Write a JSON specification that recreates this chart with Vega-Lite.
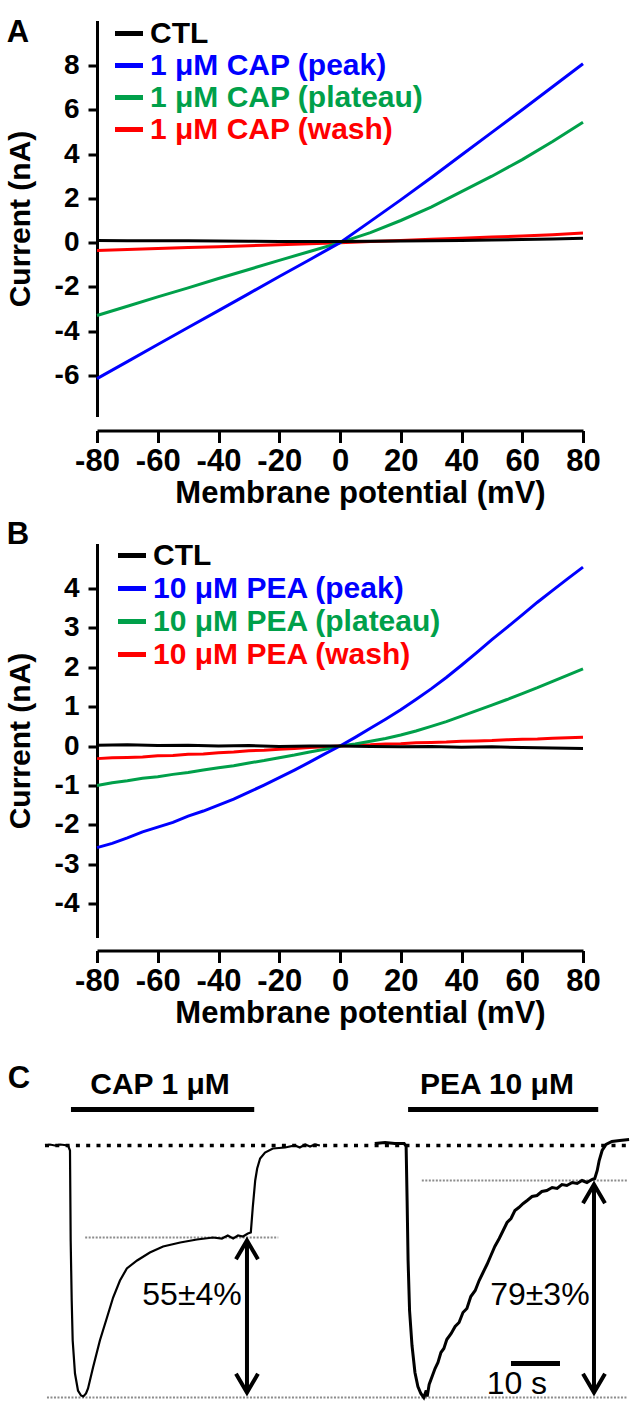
{
  "$schema": "https://vega.github.io/schema/vega-lite/v6.json",
  "padding": {"left": 5, "top": 16.5, "right": 0, "bottom": 0},
  "config": {
    "view": {"stroke": null},
    "font": "Liberation Sans",
    "axis": {"grid": false, "domainColor": "#000000", "tickColor": "#000000", "labelColor": "#000000", "titleColor": "#000000", "domainWidth": 3, "tickWidth": 3, "labelFont": "Liberation Sans", "titleFont": "Liberation Sans", "labelFontWeight": "bold", "titleFontWeight": "bold"},
    "text": {"font": "Liberation Sans", "color": "#000000"}
  },
  "datasets": {
    "ivA": [
      {"series": "1 μM CAP (wash)", "mV": -80, "nA": -0.35}, {"series": "1 μM CAP (wash)", "mV": -70, "nA": -0.31}, {"series": "1 μM CAP (wash)", "mV": -60, "nA": -0.27}, {"series": "1 μM CAP (wash)", "mV": -50, "nA": -0.22}, {"series": "1 μM CAP (wash)", "mV": -40, "nA": -0.18}, {"series": "1 μM CAP (wash)", "mV": -30, "nA": -0.14}, {"series": "1 μM CAP (wash)", "mV": -20, "nA": -0.09}, {"series": "1 μM CAP (wash)", "mV": -10, "nA": -0.05}, {"series": "1 μM CAP (wash)", "mV": 0, "nA": 0.0}, {"series": "1 μM CAP (wash)", "mV": 10, "nA": 0.05}, {"series": "1 μM CAP (wash)", "mV": 20, "nA": 0.1}, {"series": "1 μM CAP (wash)", "mV": 30, "nA": 0.15}, {"series": "1 μM CAP (wash)", "mV": 40, "nA": 0.2}, {"series": "1 μM CAP (wash)", "mV": 50, "nA": 0.25}, {"series": "1 μM CAP (wash)", "mV": 60, "nA": 0.3}, {"series": "1 μM CAP (wash)", "mV": 70, "nA": 0.36}, {"series": "1 μM CAP (wash)", "mV": 80, "nA": 0.43},
      {"series": "1 μM CAP (plateau)", "mV": -80, "nA": -3.29}, {"series": "1 μM CAP (plateau)", "mV": -70, "nA": -2.87}, {"series": "1 μM CAP (plateau)", "mV": -60, "nA": -2.45}, {"series": "1 μM CAP (plateau)", "mV": -50, "nA": -2.04}, {"series": "1 μM CAP (plateau)", "mV": -40, "nA": -1.62}, {"series": "1 μM CAP (plateau)", "mV": -30, "nA": -1.21}, {"series": "1 μM CAP (plateau)", "mV": -20, "nA": -0.8}, {"series": "1 μM CAP (plateau)", "mV": -10, "nA": -0.4}, {"series": "1 μM CAP (plateau)", "mV": 0, "nA": 0.0}, {"series": "1 μM CAP (plateau)", "mV": 10, "nA": 0.45}, {"series": "1 μM CAP (plateau)", "mV": 20, "nA": 1.0}, {"series": "1 μM CAP (plateau)", "mV": 30, "nA": 1.6}, {"series": "1 μM CAP (plateau)", "mV": 40, "nA": 2.3}, {"series": "1 μM CAP (plateau)", "mV": 50, "nA": 3.0}, {"series": "1 μM CAP (plateau)", "mV": 60, "nA": 3.75}, {"series": "1 μM CAP (plateau)", "mV": 70, "nA": 4.57}, {"series": "1 μM CAP (plateau)", "mV": 80, "nA": 5.44},
      {"series": "1 μM CAP (peak)", "mV": -80, "nA": -6.14}, {"series": "1 μM CAP (peak)", "mV": -70, "nA": -5.37}, {"series": "1 μM CAP (peak)", "mV": -60, "nA": -4.6}, {"series": "1 μM CAP (peak)", "mV": -50, "nA": -3.83}, {"series": "1 μM CAP (peak)", "mV": -40, "nA": -3.07}, {"series": "1 μM CAP (peak)", "mV": -30, "nA": -2.3}, {"series": "1 μM CAP (peak)", "mV": -20, "nA": -1.53}, {"series": "1 μM CAP (peak)", "mV": -10, "nA": -0.77}, {"series": "1 μM CAP (peak)", "mV": 0, "nA": 0.0}, {"series": "1 μM CAP (peak)", "mV": 10, "nA": 0.96}, {"series": "1 μM CAP (peak)", "mV": 20, "nA": 1.93}, {"series": "1 μM CAP (peak)", "mV": 30, "nA": 2.93}, {"series": "1 μM CAP (peak)", "mV": 40, "nA": 3.96}, {"series": "1 μM CAP (peak)", "mV": 50, "nA": 4.98}, {"series": "1 μM CAP (peak)", "mV": 60, "nA": 6.0}, {"series": "1 μM CAP (peak)", "mV": 70, "nA": 7.04}, {"series": "1 μM CAP (peak)", "mV": 80, "nA": 8.08},
      {"series": "CTL", "mV": -80, "nA": 0.1}, {"series": "CTL", "mV": -70, "nA": 0.09}, {"series": "CTL", "mV": -60, "nA": 0.08}, {"series": "CTL", "mV": -50, "nA": 0.08}, {"series": "CTL", "mV": -40, "nA": 0.07}, {"series": "CTL", "mV": -30, "nA": 0.06}, {"series": "CTL", "mV": -20, "nA": 0.05}, {"series": "CTL", "mV": -10, "nA": 0.05}, {"series": "CTL", "mV": 0, "nA": 0.05}, {"series": "CTL", "mV": 10, "nA": 0.06}, {"series": "CTL", "mV": 20, "nA": 0.07}, {"series": "CTL", "mV": 30, "nA": 0.09}, {"series": "CTL", "mV": 40, "nA": 0.1}, {"series": "CTL", "mV": 50, "nA": 0.12}, {"series": "CTL", "mV": 60, "nA": 0.14}, {"series": "CTL", "mV": 70, "nA": 0.17}, {"series": "CTL", "mV": 80, "nA": 0.2}
    ],
    "ivB": [
      {"series": "10 μM PEA (wash)", "mV": -80, "nA": -0.32}, {"series": "10 μM PEA (wash)", "mV": -75, "nA": -0.3}, {"series": "10 μM PEA (wash)", "mV": -70, "nA": -0.29}, {"series": "10 μM PEA (wash)", "mV": -65, "nA": -0.28}, {"series": "10 μM PEA (wash)", "mV": -60, "nA": -0.25}, {"series": "10 μM PEA (wash)", "mV": -55, "nA": -0.24}, {"series": "10 μM PEA (wash)", "mV": -50, "nA": -0.21}, {"series": "10 μM PEA (wash)", "mV": -45, "nA": -0.2}, {"series": "10 μM PEA (wash)", "mV": -40, "nA": -0.17}, {"series": "10 μM PEA (wash)", "mV": -35, "nA": -0.15}, {"series": "10 μM PEA (wash)", "mV": -30, "nA": -0.12}, {"series": "10 μM PEA (wash)", "mV": -25, "nA": -0.11}, {"series": "10 μM PEA (wash)", "mV": -20, "nA": -0.08}, {"series": "10 μM PEA (wash)", "mV": -15, "nA": -0.06}, {"series": "10 μM PEA (wash)", "mV": -10, "nA": -0.04}, {"series": "10 μM PEA (wash)", "mV": -5, "nA": -0.02}, {"series": "10 μM PEA (wash)", "mV": 0, "nA": 0.0}, {"series": "10 μM PEA (wash)", "mV": 5, "nA": 0.02}, {"series": "10 μM PEA (wash)", "mV": 10, "nA": 0.03}, {"series": "10 μM PEA (wash)", "mV": 15, "nA": 0.05}, {"series": "10 μM PEA (wash)", "mV": 20, "nA": 0.06}, {"series": "10 μM PEA (wash)", "mV": 25, "nA": 0.08}, {"series": "10 μM PEA (wash)", "mV": 30, "nA": 0.09}, {"series": "10 μM PEA (wash)", "mV": 35, "nA": 0.1}, {"series": "10 μM PEA (wash)", "mV": 40, "nA": 0.12}, {"series": "10 μM PEA (wash)", "mV": 45, "nA": 0.13}, {"series": "10 μM PEA (wash)", "mV": 50, "nA": 0.14}, {"series": "10 μM PEA (wash)", "mV": 55, "nA": 0.16}, {"series": "10 μM PEA (wash)", "mV": 60, "nA": 0.17}, {"series": "10 μM PEA (wash)", "mV": 65, "nA": 0.18}, {"series": "10 μM PEA (wash)", "mV": 70, "nA": 0.2}, {"series": "10 μM PEA (wash)", "mV": 75, "nA": 0.21}, {"series": "10 μM PEA (wash)", "mV": 80, "nA": 0.22},
      {"series": "10 μM PEA (plateau)", "mV": -80, "nA": -1.0}, {"series": "10 μM PEA (plateau)", "mV": -75, "nA": -0.93}, {"series": "10 μM PEA (plateau)", "mV": -70, "nA": -0.88}, {"series": "10 μM PEA (plateau)", "mV": -65, "nA": -0.82}, {"series": "10 μM PEA (plateau)", "mV": -60, "nA": -0.78}, {"series": "10 μM PEA (plateau)", "mV": -55, "nA": -0.72}, {"series": "10 μM PEA (plateau)", "mV": -50, "nA": -0.67}, {"series": "10 μM PEA (plateau)", "mV": -45, "nA": -0.61}, {"series": "10 μM PEA (plateau)", "mV": -40, "nA": -0.55}, {"series": "10 μM PEA (plateau)", "mV": -35, "nA": -0.5}, {"series": "10 μM PEA (plateau)", "mV": -30, "nA": -0.43}, {"series": "10 μM PEA (plateau)", "mV": -25, "nA": -0.37}, {"series": "10 μM PEA (plateau)", "mV": -20, "nA": -0.3}, {"series": "10 μM PEA (plateau)", "mV": -15, "nA": -0.23}, {"series": "10 μM PEA (plateau)", "mV": -10, "nA": -0.15}, {"series": "10 μM PEA (plateau)", "mV": -5, "nA": -0.08}, {"series": "10 μM PEA (plateau)", "mV": 0, "nA": 0.0}, {"series": "10 μM PEA (plateau)", "mV": 5, "nA": 0.05}, {"series": "10 μM PEA (plateau)", "mV": 10, "nA": 0.12}, {"series": "10 μM PEA (plateau)", "mV": 15, "nA": 0.19}, {"series": "10 μM PEA (plateau)", "mV": 20, "nA": 0.28}, {"series": "10 μM PEA (plateau)", "mV": 25, "nA": 0.38}, {"series": "10 μM PEA (plateau)", "mV": 30, "nA": 0.5}, {"series": "10 μM PEA (plateau)", "mV": 35, "nA": 0.62}, {"series": "10 μM PEA (plateau)", "mV": 40, "nA": 0.76}, {"series": "10 μM PEA (plateau)", "mV": 45, "nA": 0.9}, {"series": "10 μM PEA (plateau)", "mV": 50, "nA": 1.04}, {"series": "10 μM PEA (plateau)", "mV": 55, "nA": 1.18}, {"series": "10 μM PEA (plateau)", "mV": 60, "nA": 1.33}, {"series": "10 μM PEA (plateau)", "mV": 65, "nA": 1.48}, {"series": "10 μM PEA (plateau)", "mV": 70, "nA": 1.64}, {"series": "10 μM PEA (plateau)", "mV": 75, "nA": 1.8}, {"series": "10 μM PEA (plateau)", "mV": 80, "nA": 1.96},
      {"series": "10 μM PEA (peak)", "mV": -80, "nA": -2.58}, {"series": "10 μM PEA (peak)", "mV": -75, "nA": -2.47}, {"series": "10 μM PEA (peak)", "mV": -70, "nA": -2.33}, {"series": "10 μM PEA (peak)", "mV": -65, "nA": -2.18}, {"series": "10 μM PEA (peak)", "mV": -60, "nA": -2.06}, {"series": "10 μM PEA (peak)", "mV": -55, "nA": -1.94}, {"series": "10 μM PEA (peak)", "mV": -50, "nA": -1.78}, {"series": "10 μM PEA (peak)", "mV": -45, "nA": -1.65}, {"series": "10 μM PEA (peak)", "mV": -40, "nA": -1.5}, {"series": "10 μM PEA (peak)", "mV": -35, "nA": -1.35}, {"series": "10 μM PEA (peak)", "mV": -30, "nA": -1.17}, {"series": "10 μM PEA (peak)", "mV": -25, "nA": -0.99}, {"series": "10 μM PEA (peak)", "mV": -20, "nA": -0.8}, {"series": "10 μM PEA (peak)", "mV": -15, "nA": -0.61}, {"series": "10 μM PEA (peak)", "mV": -10, "nA": -0.41}, {"series": "10 μM PEA (peak)", "mV": -5, "nA": -0.2}, {"series": "10 μM PEA (peak)", "mV": 0, "nA": 0.0}, {"series": "10 μM PEA (peak)", "mV": 5, "nA": 0.22}, {"series": "10 μM PEA (peak)", "mV": 10, "nA": 0.45}, {"series": "10 μM PEA (peak)", "mV": 15, "nA": 0.68}, {"series": "10 μM PEA (peak)", "mV": 20, "nA": 0.92}, {"series": "10 μM PEA (peak)", "mV": 25, "nA": 1.18}, {"series": "10 μM PEA (peak)", "mV": 30, "nA": 1.45}, {"series": "10 μM PEA (peak)", "mV": 35, "nA": 1.74}, {"series": "10 μM PEA (peak)", "mV": 40, "nA": 2.05}, {"series": "10 μM PEA (peak)", "mV": 45, "nA": 2.37}, {"series": "10 μM PEA (peak)", "mV": 50, "nA": 2.7}, {"series": "10 μM PEA (peak)", "mV": 55, "nA": 3.01}, {"series": "10 μM PEA (peak)", "mV": 60, "nA": 3.33}, {"series": "10 μM PEA (peak)", "mV": 65, "nA": 3.65}, {"series": "10 μM PEA (peak)", "mV": 70, "nA": 3.95}, {"series": "10 μM PEA (peak)", "mV": 75, "nA": 4.25}, {"series": "10 μM PEA (peak)", "mV": 80, "nA": 4.54},
      {"series": "CTL", "mV": -80, "nA": 0.02}, {"series": "CTL", "mV": -70, "nA": 0.03}, {"series": "CTL", "mV": -60, "nA": 0.01}, {"series": "CTL", "mV": -50, "nA": 0.02}, {"series": "CTL", "mV": -40, "nA": 0.0}, {"series": "CTL", "mV": -30, "nA": 0.01}, {"series": "CTL", "mV": -20, "nA": -0.01}, {"series": "CTL", "mV": -10, "nA": 0.0}, {"series": "CTL", "mV": 0, "nA": 0.0}, {"series": "CTL", "mV": 10, "nA": -0.01}, {"series": "CTL", "mV": 20, "nA": -0.02}, {"series": "CTL", "mV": 30, "nA": -0.01}, {"series": "CTL", "mV": 40, "nA": -0.03}, {"series": "CTL", "mV": 50, "nA": -0.02}, {"series": "CTL", "mV": 60, "nA": -0.04}, {"series": "CTL", "mV": 70, "nA": -0.05}, {"series": "CTL", "mV": 80, "nA": -0.06}
    ],
    "trace1": [
      {"t": 0, "I": 0}, {"t": 1.0, "I": 0.4}, {"t": 2.0, "I": 0}, {"t": 3.1, "I": 0.4}, {"t": 4.7, "I": 0}, {"t": 5.1, "I": -2}, {"t": 5.24, "I": -38}, {"t": 5.45, "I": -62}, {"t": 5.65, "I": -78}, {"t": 6.12, "I": -91.2}, {"t": 6.73, "I": -98}, {"t": 7.35, "I": -100}, {"t": 7.82, "I": -100.4}, {"t": 8.37, "I": -99.2}, {"t": 8.78, "I": -97.2}, {"t": 9.8, "I": -88.8}, {"t": 11.2, "I": -78}, {"t": 12.65, "I": -68.8}, {"t": 13.9, "I": -60.8}, {"t": 15.3, "I": -54}, {"t": 16.7, "I": -49.2}, {"t": 18.8, "I": -46}, {"t": 21.4, "I": -42.8}, {"t": 24.1, "I": -40.4}, {"t": 27.6, "I": -38.8}, {"t": 31.0, "I": -37.6}, {"t": 34.3, "I": -36.8}, {"t": 36.1, "I": -37.2}, {"t": 37.3, "I": -36}, {"t": 38.4, "I": -37.2}, {"t": 39.4, "I": -36}, {"t": 40.4, "I": -36.4}, {"t": 41.4, "I": -35.2}, {"t": 42.0, "I": -34.8}, {"t": 42.4, "I": -24.8}, {"t": 42.9, "I": -14}, {"t": 43.3, "I": -9.2}, {"t": 43.9, "I": -5.2}, {"t": 44.9, "I": -2.8}, {"t": 46.5, "I": -1.2}, {"t": 49.0, "I": -0.8}, {"t": 51.0, "I": 0}, {"t": 52.0, "I": -0.8}, {"t": 53.1, "I": 0.4}, {"t": 54.1, "I": -0.4}, {"t": 55.1, "I": 0.4}, {"t": 56.1, "I": 0}
    ],
    "trace2": [
      {"t": 67.3, "I": 0.8}, {"t": 69.4, "I": 1.2}, {"t": 71.4, "I": 0.8}, {"t": 73.3, "I": 0.8}, {"t": 73.7, "I": -0.4}, {"t": 73.9, "I": -22}, {"t": 74.1, "I": -46}, {"t": 74.4, "I": -66}, {"t": 74.9, "I": -80}, {"t": 75.5, "I": -90.8}, {"t": 76.1, "I": -96.4}, {"t": 76.7, "I": -99.2}, {"t": 77.3, "I": -100.8}, {"t": 77.8, "I": -98}, {"t": 78.0, "I": -100.4}, {"t": 78.4, "I": -95.6}, {"t": 79.0, "I": -92.4}, {"t": 79.6, "I": -89.2}, {"t": 80.2, "I": -86.8}, {"t": 80.8, "I": -82.8}, {"t": 81.4, "I": -81.2}, {"t": 82.0, "I": -77.6}, {"t": 82.9, "I": -75.2}, {"t": 83.7, "I": -72.4}, {"t": 84.5, "I": -70.8}, {"t": 85.3, "I": -66.8}, {"t": 86.1, "I": -65.2}, {"t": 86.9, "I": -60.4}, {"t": 87.8, "I": -58}, {"t": 88.6, "I": -54}, {"t": 89.4, "I": -50.8}, {"t": 90.2, "I": -47.6}, {"t": 91.0, "I": -44}, {"t": 91.8, "I": -40.4}, {"t": 92.7, "I": -37.2}, {"t": 93.5, "I": -34}, {"t": 94.3, "I": -30.8}, {"t": 95.1, "I": -29.2}, {"t": 95.9, "I": -26}, {"t": 96.7, "I": -24.8}, {"t": 97.6, "I": -23.2}, {"t": 98.4, "I": -22}, {"t": 99.4, "I": -20.4}, {"t": 100.4, "I": -20}, {"t": 101.4, "I": -18.4}, {"t": 102.4, "I": -18}, {"t": 103.5, "I": -16.8}, {"t": 104.5, "I": -17.2}, {"t": 105.5, "I": -15.6}, {"t": 106.5, "I": -16}, {"t": 107.6, "I": -14.8}, {"t": 108.6, "I": -15.2}, {"t": 109.6, "I": -14}, {"t": 110.6, "I": -14.8}, {"t": 111.6, "I": -13.6}, {"t": 112.2, "I": -13.2}, {"t": 112.7, "I": -10}, {"t": 113.1, "I": -6}, {"t": 113.7, "I": -2}, {"t": 114.5, "I": 0.4}, {"t": 115.7, "I": 1.6}, {"t": 117.3, "I": 2}, {"t": 119.2, "I": 2.4}
    ],
    "baseline": [{"t1": 0, "t2": 119.2, "I": 0}],
    "guides": [{"t1": 8.2, "t2": 47.6, "I": -36.8}, {"t1": 76.9, "t2": 118.8, "I": -14.0}, {"t1": 0.4, "t2": 118.8, "I": -100.8}],
    "bars": [{"t1": 5.3, "t2": 42.7, "I": 14.4}, {"t1": 74.1, "t2": 112.9, "I": 14.4}, {"t1": 95.1, "t2": 105.1, "I": -87.2}],
    "drugs": [{"label": "CAP 1 μM", "t": 23.47, "I": 24.1}, {"label": "PEA 10 μM", "t": 92.24, "I": 24.1}],
    "notes": [{"label": "55±4%", "t": 30.0, "I": -59.9}, {"label": "79±3%", "t": 101.0, "I": -59.9}, {"label": "10 s", "t": 96.3, "I": -95.5}],
    "arrows": [{"t": 41.22, "top": -38.0, "bottom": -98.8}, {"t": 112.04, "top": -15.6, "bottom": -98.8}]
  },
  "vconcat": [
    {
      "width": 486,
      "height": 396,
      "layer": [
        {
          "data": {"name": "ivA"},
          "mark": {"type": "line", "strokeWidth": 3},
          "encoding": {
            "x": {"field": "mV", "type": "quantitative", "scale": {"domain": [-80, 80], "nice": false, "zero": false},
              "axis": {"values": [-80, -60, -40, -20, 0, 20, 40, 60, 80], "labelExpr": "'' + datum.value", "title": "Membrane potential (mV)", "offset": 14, "tickSize": 12, "labelFontSize": 31, "labelPadding": 4, "labelFlush": false, "labelOverlap": false, "titleFontSize": 31, "titleX": 263, "titleY": 48, "titleBaseline": "top", "titleAlign": "center"}},
            "y": {"field": "nA", "type": "quantitative", "scale": {"domain": [-7.85, 10.03], "nice": false, "zero": false},
              "axis": {"values": [-6, -4, -2, 0, 2, 4, 6, 8], "labelExpr": "'' + datum.value", "title": "Current (nA)", "tickSize": 9, "labelFontSize": 28, "labelPadding": 9, "labelFlush": false, "labelOverlap": false, "titleFontSize": 30, "titleX": -76.5, "titleBaseline": "middle", "titleAlign": "center", "titleAngle": -90}},
            "color": {"field": "series", "type": "nominal",
              "scale": {"domain": ["CTL", "1 μM CAP (peak)", "1 μM CAP (plateau)", "1 μM CAP (wash)"], "range": ["#000000", "#0000ff", "#00a04a", "#ff0000"]},
              "legend": {"orient": "none", "legendX": 15.5, "legendY": -3.5, "title": null, "symbolType": "stroke", "symbolSize": 784, "symbolStrokeWidth": 5, "labelFont": "Liberation Sans", "labelFontSize": 30, "labelFontWeight": "bold", "labelOffset": 4.5, "rowPadding": 0, "padding": 0, "labelLimit": 600,
                "labelColor": {"expr": "datum.value === 'CTL' ? '#000000' : indexof(datum.value, 'peak') >= 0 ? '#0000ff' : indexof(datum.value, 'plateau') >= 0 ? '#00a04a' : '#ff0000'"}}}
          }
        },
        {
          "data": {"values": [{"panel": "A", "mV": -106, "nA": 9.457}]},
          "mark": {"type": "text", "fontSize": 31, "fontWeight": "bold", "align": "center", "baseline": "middle"},
          "encoding": {"x": {"field": "mV", "type": "quantitative"}, "y": {"field": "nA", "type": "quantitative"}, "text": {"field": "panel"}}
        }
      ]
    },
    {
      "width": 486,
      "height": 394,
      "layer": [
        {
          "data": {"name": "ivB"},
          "mark": {"type": "line", "strokeWidth": 3},
          "encoding": {
            "x": {"field": "mV", "type": "quantitative", "scale": {"domain": [-80, 80], "nice": false, "zero": false},
              "axis": {"values": [-80, -60, -40, -20, 0, 20, 40, 60, 80], "labelExpr": "'' + datum.value", "title": "Membrane potential (mV)", "offset": 13, "tickSize": 12, "labelFontSize": 31, "labelPadding": 4, "labelFlush": false, "labelOverlap": false, "titleFontSize": 31, "titleX": 263, "titleY": 48, "titleBaseline": "top", "titleAlign": "center"}},
            "y": {"field": "nA", "type": "quantitative", "scale": {"domain": [-4.86, 5.14], "nice": false, "zero": false},
              "axis": {"values": [-4, -3, -2, -1, 0, 1, 2, 3, 4], "labelExpr": "'' + datum.value", "title": "Current (nA)", "tickSize": 9, "labelFontSize": 28, "labelPadding": 9, "labelFlush": false, "labelOverlap": false, "titleFontSize": 30, "titleX": -76.5, "titleBaseline": "middle", "titleAlign": "center", "titleAngle": -90}},
            "color": {"field": "series", "type": "nominal",
              "scale": {"domain": ["CTL", "10 μM PEA (peak)", "10 μM PEA (plateau)", "10 μM PEA (wash)"], "range": ["#000000", "#0000ff", "#00a04a", "#ff0000"]},
              "legend": {"orient": "none", "legendX": 18.5, "legendY": -4.5, "title": null, "symbolType": "stroke", "symbolSize": 784, "symbolStrokeWidth": 5, "labelFont": "Liberation Sans", "labelFontSize": 30, "labelFontWeight": "bold", "labelOffset": 4.5, "rowPadding": 1, "padding": 0, "labelLimit": 600,
                "labelColor": {"expr": "datum.value === 'CTL' ? '#000000' : indexof(datum.value, 'peak') >= 0 ? '#0000ff' : indexof(datum.value, 'plateau') >= 0 ? '#00a04a' : '#ff0000'"}}}
          }
        },
        {
          "data": {"values": [{"panel": "B", "mV": -106, "nA": 5.35}]},
          "mark": {"type": "text", "fontSize": 31, "fontWeight": "bold", "align": "center", "baseline": "middle"},
          "encoding": {"x": {"field": "mV", "type": "quantitative"}, "y": {"field": "nA", "type": "quantitative"}, "text": {"field": "panel"}}
        }
      ]
    },
    {
      "width": 533,
      "height": 336,
      "encoding": {
        "x": {"type": "quantitative", "scale": {"domain": [10.612, 119.388], "nice": false, "zero": false}, "axis": null},
        "y": {"type": "quantitative", "scale": {"domain": [-102, 32.4], "nice": false, "zero": false}, "axis": null}
      },
      "layer": [
        {
          "data": {"name": "baseline"},
          "mark": {"type": "rule", "color": "#000000", "strokeWidth": 3.5, "strokeDash": [4, 6.3]},
          "encoding": {"x": {"field": "t1", "type": "quantitative"}, "x2": {"field": "t2"}, "y": {"field": "I", "type": "quantitative"}}
        },
        {
          "data": {"name": "guides"},
          "mark": {"type": "rule", "color": "#8c8c8c", "strokeWidth": 2, "strokeDash": [2, 1.5]},
          "encoding": {"x": {"field": "t1", "type": "quantitative"}, "x2": {"field": "t2"}, "y": {"field": "I", "type": "quantitative"}}
        },
        {
          "data": {"name": "trace1"},
          "mark": {"type": "line", "color": "#000000", "strokeWidth": 2.2},
          "encoding": {"x": {"field": "t", "type": "quantitative"}, "y": {"field": "I", "type": "quantitative"}}
        },
        {
          "data": {"name": "trace2"},
          "mark": {"type": "line", "color": "#000000", "strokeWidth": 3},
          "encoding": {"x": {"field": "t", "type": "quantitative"}, "y": {"field": "I", "type": "quantitative"}}
        },
        {
          "data": {"name": "bars"},
          "mark": {"type": "rule", "color": "#000000", "strokeWidth": 5},
          "encoding": {"x": {"field": "t1", "type": "quantitative"}, "x2": {"field": "t2"}, "y": {"field": "I", "type": "quantitative"}}
        },
        {
          "data": {"name": "arrows"},
          "mark": {"type": "rule", "color": "#000000", "strokeWidth": 4},
          "encoding": {"x": {"field": "t", "type": "quantitative"}, "y": {"field": "top", "type": "quantitative"}, "y2": {"field": "bottom"}}
        },
        {
          "data": {"name": "arrows"},
          "mark": {"type": "point", "shape": "M-1,1.7L0,0L1,1.7", "size": 484, "filled": false, "color": "#000000", "strokeWidth": 4, "opacity": 1},
          "encoding": {"x": {"field": "t", "type": "quantitative"}, "y": {"field": "top", "type": "quantitative"}}
        },
        {
          "data": {"name": "arrows"},
          "mark": {"type": "point", "shape": "M-1,-1.7L0,0L1,-1.7", "size": 484, "filled": false, "color": "#000000", "strokeWidth": 4, "opacity": 1},
          "encoding": {"x": {"field": "t", "type": "quantitative"}, "y": {"field": "bottom", "type": "quantitative"}}
        },
        {
          "data": {"name": "drugs"},
          "mark": {"type": "text", "fontSize": 30, "fontWeight": "bold", "align": "center", "baseline": "middle"},
          "encoding": {"x": {"field": "t", "type": "quantitative"}, "y": {"field": "I", "type": "quantitative"}, "text": {"field": "label"}}
        },
        {
          "data": {"name": "notes"},
          "mark": {"type": "text", "fontSize": 32, "align": "center", "baseline": "middle"},
          "encoding": {"x": {"field": "t", "type": "quantitative"}, "y": {"field": "I", "type": "quantitative"}, "text": {"field": "label"}}
        },
        {
          "data": {"values": [{"panel": "C", "t": -5.31, "I": 26.5}]},
          "mark": {"type": "text", "fontSize": 31, "fontWeight": "bold", "align": "center", "baseline": "middle"},
          "encoding": {"x": {"field": "t", "type": "quantitative"}, "y": {"field": "I", "type": "quantitative"}, "text": {"field": "panel"}}
        }
      ]
    }
  ],
  "spacing": 127,
  "bounds": "flush",
  "resolve": {"scale": {"color": "independent", "x": "independent", "y": "independent"}, "legend": {"color": "independent"}}
}
